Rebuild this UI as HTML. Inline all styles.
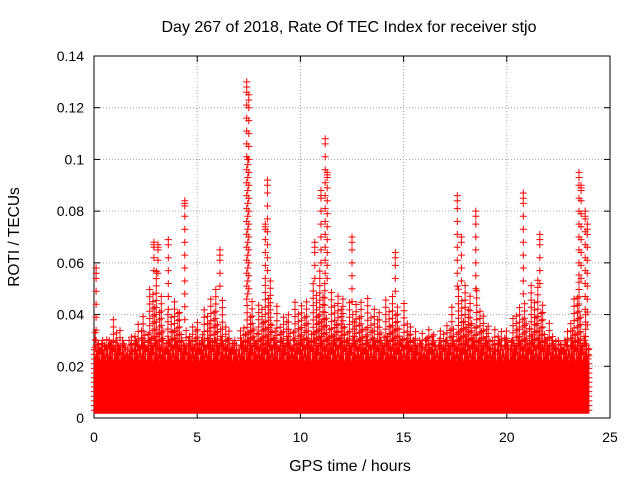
<!DOCTYPE html>
<html><head><meta charset="utf-8"><style>
body{margin:0;background:#fff}
svg{display:block;font-family:"Liberation Sans",sans-serif}
</style></head><body>
<svg width="640" height="480" viewBox="0 0 640 480">
<g id="grid"></g>
<g id="axes"></g>
<path id="pts" fill="none" stroke="#ff0000" stroke-width="1"/>
<text x="349" y="32" text-anchor="middle" font-size="16">Day 267 of 2018, Rate Of TEC Index for receiver stjo</text>
<text x="350" y="471" text-anchor="middle" font-size="16">GPS time / hours</text>
<text transform="translate(19,237) rotate(-90)" text-anchor="middle" font-size="15.5">ROTI / TECUs</text>
</svg>
<script>
const xTicks=[0,5,10,15,20,25];
const yTicks=[0,0.02,0.04,0.06,0.08,0.1,0.12,0.14];
const yTickLabels=["0","0.02","0.04","0.06","0.08","0.1","0.12","0.14"];
// upper level of the cloud, every 0.5 h from 0 to 24
const envelope=[0.035,0.03,0.04,0.03,0.035,0.045,0.06,0.04,0.05,0.035,0.04,0.045,0.055,0.035,0.03,0.05,0.045,0.06,0.04,0.045,0.045,0.05,0.06,0.05,0.05,0.045,0.05,0.045,0.045,0.05,0.045,0.035,0.035,0.035,0.035,0.05,0.055,0.05,0.04,0.035,0.035,0.045,0.05,0.055,0.04,0.03,0.035,0.06,0.03];
const solidLevel=0.022;
const spikeTimes=[0.1,2.9,3.1,3.6,4.4,6.1,7.4,7.5,7.45,8.4,8.3,10.7,11.0,11.2,11.3,12.5,14.6,17.6,17.8,18.5,20.8,21.6,23.5,23.6,23.8,23.9];
const spikeValues=[0.058,0.068,0.067,0.069,0.084,0.065,0.13,0.125,0.1,0.092,0.075,0.068,0.088,0.108,0.095,0.07,0.064,0.086,0.07,0.08,0.087,0.071,0.095,0.09,0.08,0.075];
const X0=94,X1=610,Y0=418,Y1=56;
const xs=v=>X0+(v/25)*(X1-X0);
const ys=v=>Y0-(v/0.14)*(Y0-Y1);
const NS="http://www.w3.org/2000/svg";
const grid=document.getElementById('grid'),axes=document.getElementById('axes');
function el(t,a,p){const e=document.createElementNS(NS,t);for(const k in a)e.setAttribute(k,a[k]);p.appendChild(e);return e;}
xTicks.forEach(t=>{
 if(t>0&&t<25){const l=el('line',{x1:xs(t),x2:xs(t),y1:Y0,y2:Y1,stroke:'#a0a0a0','stroke-dasharray':'1,2'},grid);
 
 }
 const tx=el('text',{x:xs(t),y:Y0+24,'text-anchor':'middle','font-size':'14'},axes);tx.textContent=t;
 
 
 el('line',{x1:xs(t),x2:xs(t),y1:Y0,y2:Y0-6,stroke:'#000'},axes);
 el('line',{x1:xs(t),x2:xs(t),y1:Y1,y2:Y1+6,stroke:'#000'},axes);
});
yTicks.forEach((t,i)=>{
 if(i>0&&i<yTicks.length-1){const l=el('line',{x1:X0,x2:X1,y1:ys(t),y2:ys(t),stroke:'#a0a0a0','stroke-dasharray':'1,2'},grid);
 
 }
 const tx=el('text',{x:X0-10,y:ys(t)+5,'text-anchor':'end','font-size':'14'},axes);tx.textContent=yTickLabels[i];
 
 
 el('line',{x1:X0,x2:X0+6,y1:ys(t),y2:ys(t),stroke:'#000'},axes);
 el('line',{x1:X1,x2:X1-6,y1:ys(t),y2:ys(t),stroke:'#000'},axes);
});
const fr=el('rect',{x:X0,y:Y1,width:X1-X0,height:Y0-Y1,fill:'none',stroke:'#000'},axes);


let d='';
function plus(x,y){d+='M'+(x-3.5).toFixed(1)+' '+y.toFixed(1)+'h7M'+x.toFixed(1)+' '+(y-3.5).toFixed(1)+'v7';}
function env(t){const i=t/0.5,a=Math.floor(i),b=Math.min(a+1,envelope.length-1),f=i-a;return envelope[a]*(1-f)+envelope[b]*f;}
const colScale=[0.45,1,0.3,0.8,0.55,0.95,0.35,0.7,0.9,0.5,0.25];
const solidJit=[0,0.006,0.002,0.009,0.004,0.007,0.001,0.005];
let k=0;
for(let t=0.02;t<=24;t+=0.04){
 k++;
 const e=env(t);
 const top=Math.min(e,solidLevel+solidJit[k%8]);
 for(let v=0.003;v<=top;v+=0.0018)plus(xs(t),ys(v));
 if(k%2===0){
  const ct=top+(e-top)*colScale[(k/2)%11];
  for(let v=top+0.002+0.0007*(k%5);v<=ct;v+=0.0028)plus(xs(t),ys(v));
 }
}
spikeTimes.forEach((t,i)=>{
 for(let v=env(t);v<=spikeValues[i];v+=0.005)plus(xs(t),ys(v));
 plus(xs(t),ys(spikeValues[i]));
 plus(xs(t),ys(spikeValues[i]-0.002));
});
document.getElementById('pts').setAttribute('d',d);
</script>
</body></html>
